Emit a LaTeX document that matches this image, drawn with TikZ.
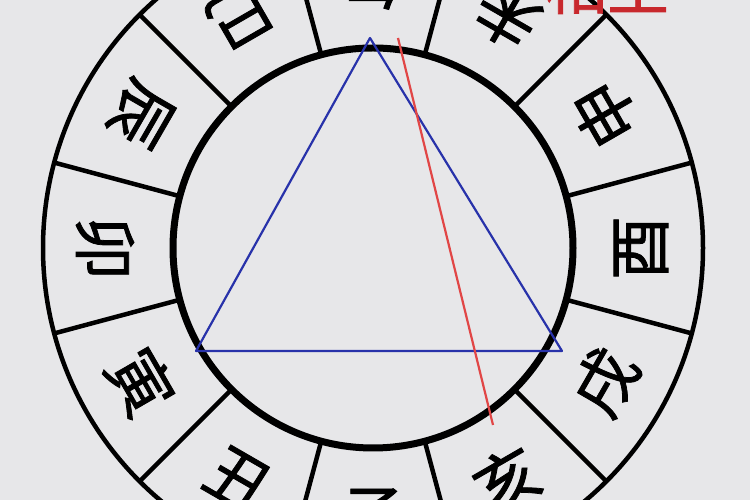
\documentclass[tikz,border=0pt]{standalone}
\usepackage{fontspec}
\newfontfamily\cjk[FakeBold=1.2]{Noto Sans CJK SC}
\definecolor{bg}{RGB}{231,231,233}
\definecolor{triblue}{RGB}{40,50,170}
\definecolor{redline}{RGB}{225,70,70}
\definecolor{redtext}{RGB}{200,40,45}
\begin{document}
\begin{tikzpicture}[x=1pt,y=1pt,
  ring/.style={line width=4.5pt,black},
  innerring/.style={line width=7pt,black},
  lab/.style={inner sep=0pt,font=\cjk\fontsize{64}{64}\selectfont},
  tri/.style={triblue,line width=2.2pt,line join=round},
  redl/.style={redline,line width=2.2pt}]
\useasboundingbox (0,0) rectangle (750,500);
\clip (0,0) rectangle (750,500);
\fill[bg] (0,0) rectangle (750,500);
\begin{scope}[shift={(373,252)}]
  \draw[ring] (0,0) circle (330);
  \draw[innerring] (0,0) circle (200);
  \foreach \a in {15,45,...,345}
    \draw[ring] (\a:200) -- (\a:330);
  \foreach \nm/\ang in {午/90,未/60,申/30,酉/0,戌/330,亥/300,子/270,丑/240,寅/210,卯/180,辰/150,巳/120}
    \node[lab,rotate=\ang+90] (b\ang) at (\ang:268) {\nm};
  \coordinate (tA) at (-3,210);
  \coordinate (tB) at (-177,-103);
  \coordinate (tC) at (189,-103);
  \coordinate (rA) at (25,210);
  \coordinate (rB) at (120,-177);
  \draw[tri] (tA) -- (tB) -- (tC) -- cycle;
  \draw[redl] (rA) -- (rB);
\end{scope}
\node[inner sep=0pt,anchor=base,text=redtext,font=\cjk\fontsize{62}{62}\selectfont] (title) at (607,491) {相生};
\end{tikzpicture}
\end{document}
